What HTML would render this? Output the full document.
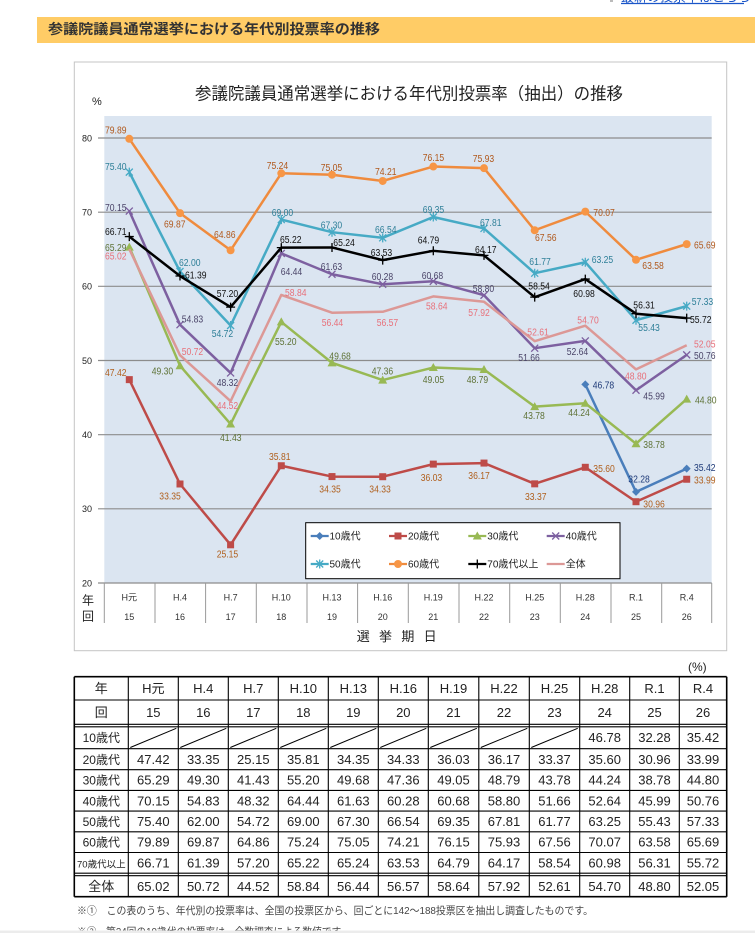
<!DOCTYPE html>
<html lang="ja">
<head>
<meta charset="utf-8">
<style>
html,body{margin:0;padding:0;background:#fff;}
svg{display:block;}
text{font-family:"Liberation Sans","Noto Sans CJK JP",sans-serif;}
.lb{font-size:10px;}
.tb{font-size:13px;fill:#222;}
</style>
</head>
<body>
<svg width="755" height="933" viewBox="0 0 755 933" xmlns="http://www.w3.org/2000/svg">
<defs>
<marker id="mD" markerUnits="userSpaceOnUse" markerWidth="10" markerHeight="10" refX="5" refY="5" overflow="visible"><path d="M5 1L9 5L5 9L1 5Z" fill="#4a7ebb"/></marker>
<marker id="mS" markerUnits="userSpaceOnUse" markerWidth="10" markerHeight="10" refX="5" refY="5" overflow="visible"><rect x="1.5" y="1.5" width="7" height="7" fill="#be4b48"/></marker>
<marker id="mT" markerUnits="userSpaceOnUse" markerWidth="10" markerHeight="10" refX="5" refY="5" overflow="visible"><path d="M5 0.5L9.5 8.5L0.5 8.5Z" fill="#98b954"/></marker>
<marker id="mX" markerUnits="userSpaceOnUse" markerWidth="10" markerHeight="10" refX="5" refY="5" overflow="visible"><path d="M1.5 1.5L8.5 8.5M1.5 8.5L8.5 1.5" stroke="#7d60a0" stroke-width="1.3" fill="none"/></marker>
<marker id="mA" markerUnits="userSpaceOnUse" markerWidth="10" markerHeight="10" refX="5" refY="5" overflow="visible"><path d="M1.5 1.5L8.5 8.5M1.5 8.5L8.5 1.5M5 0.5L5 9.5" stroke="#46aac5" stroke-width="1.3" fill="none"/></marker>
<marker id="mC" markerUnits="userSpaceOnUse" markerWidth="10" markerHeight="10" refX="5" refY="5" overflow="visible"><circle cx="5" cy="5" r="4" fill="#f79646"/></marker>
<marker id="mP" markerUnits="userSpaceOnUse" markerWidth="10" markerHeight="10" refX="5" refY="5" overflow="visible"><path d="M0.5 5H9.5M5 0.5V9.5" stroke="#000" stroke-width="1.3" fill="none"/></marker>
</defs>

<!-- top right link -->
<rect x="610" y="0" width="3" height="2" fill="#bbb"/>
<text x="621" y="1.5" font-size="13" fill="#1a55c8">最新の投票率はこちらへ</text>
<line x1="621" y1="3.5" x2="744" y2="3.5" stroke="#1a55c8" stroke-width="1.3"/>

<!-- header bar -->
<rect x="37" y="17" width="718" height="26" fill="#ffcc66"/>
<text x="48" y="34" font-size="14" font-weight="bold" fill="#333" textLength="332" lengthAdjust="spacingAndGlyphs">参議院議員通常選挙における年代別投票率の推移</text>

<!-- chart frame -->
<rect x="74.3" y="62" width="652.4" height="588.7" fill="#fff" stroke="#c4c4c4" stroke-width="1"/>
<text x="195" y="99.5" font-size="17" fill="#222" textLength="428" lengthAdjust="spacingAndGlyphs">参議院議員通常選挙における年代別投票率（抽出）の推移</text>
<text x="92" y="105" font-size="11" fill="#222">%</text>

<!-- plot area -->
<rect x="104.3" y="116" width="607.4" height="467" fill="#dbe5f1"/>
<g stroke="#8c8c8c" stroke-width="1.2">
<line x1="98" y1="138" x2="711.7" y2="138"/>
<line x1="98" y1="212.2" x2="711.7" y2="212.2"/>
<line x1="98" y1="286.3" x2="711.7" y2="286.3"/>
<line x1="98" y1="360.5" x2="711.7" y2="360.5"/>
<line x1="98" y1="434.7" x2="711.7" y2="434.7"/>
<line x1="98" y1="508.8" x2="711.7" y2="508.8"/>
<line x1="98" y1="583" x2="711.7" y2="583"/>
</g>
<g stroke="#9a9a9a" stroke-width="1">
<line x1="104.3" y1="583" x2="104.3" y2="623"/>
<line x1="155" y1="583" x2="155" y2="623"/>
<line x1="205.6" y1="583" x2="205.6" y2="623"/>
<line x1="256.3" y1="583" x2="256.3" y2="623"/>
<line x1="307" y1="583" x2="307" y2="623"/>
<line x1="357.6" y1="583" x2="357.6" y2="623"/>
<line x1="408.3" y1="583" x2="408.3" y2="623"/>
<line x1="459" y1="583" x2="459" y2="623"/>
<line x1="509.7" y1="583" x2="509.7" y2="623"/>
<line x1="560.3" y1="583" x2="560.3" y2="623"/>
<line x1="611" y1="583" x2="611" y2="623"/>
<line x1="661.7" y1="583" x2="661.7" y2="623"/>
<line x1="711.7" y1="583" x2="711.7" y2="623"/>
</g>

<!-- y ticks -->
<g font-size="9" fill="#222" text-anchor="end">
<text x="92" y="141.3">80</text>
<text x="92" y="215.5">70</text>
<text x="92" y="289.6">60</text>
<text x="92" y="363.8">50</text>
<text x="92" y="438">40</text>
<text x="92" y="512.1">30</text>
<text x="92" y="586.3">20</text>
</g>
<text x="82" y="604.5" font-size="12" fill="#222">年</text>
<text x="82" y="620.5" font-size="12" fill="#222">回</text>

<!-- x category labels -->
<g font-size="9" fill="#333" text-anchor="middle">
<text y="600.3"><tspan x="129.3">H元</tspan><tspan x="180">H.4</tspan><tspan x="230.6">H.7</tspan><tspan x="281.3">H.10</tspan><tspan x="332">H.13</tspan><tspan x="382.7">H.16</tspan><tspan x="433.3">H.19</tspan><tspan x="484">H.22</tspan><tspan x="534.7">H.25</tspan><tspan x="585.3">H.28</tspan><tspan x="636">R.1</tspan><tspan x="686.7">R.4</tspan></text>
<text y="620"><tspan x="129.3">15</tspan><tspan x="180">16</tspan><tspan x="230.6">17</tspan><tspan x="281.3">18</tspan><tspan x="332">19</tspan><tspan x="382.7">20</tspan><tspan x="433.3">21</tspan><tspan x="484">22</tspan><tspan x="534.7">23</tspan><tspan x="585.3">24</tspan><tspan x="636">25</tspan><tspan x="686.7">26</tspan></text>
</g>
<text x="356.7" y="641" font-size="13" fill="#222" textLength="80" lengthAdjust="spacing">選挙期日</text>

<!-- series -->
<g fill="none" stroke-width="2.5" stroke-linejoin="round">
<polyline stroke="#4a7ebb" marker-start="url(#mD)" marker-mid="url(#mD)" marker-end="url(#mD)" points="585.3,384.38 636,491.92 686.7,468.64"/>
<polyline stroke="#be4b48" marker-start="url(#mS)" marker-mid="url(#mS)" marker-end="url(#mS)" points="129.3,379.63 180,483.99 230.6,544.80 281.3,465.74 332,476.57 382.7,476.72 433.3,464.11 484,463.07 534.7,483.84 585.3,467.30 636,501.71 686.7,479.24"/>
<polyline stroke="#98b954" marker-start="url(#mT)" marker-mid="url(#mT)" marker-end="url(#mT)" points="129.3,247.10 180,365.69 230.6,424.06 281.3,321.93 332,362.87 382.7,380.08 433.3,367.55 484,369.48 534.7,406.63 585.3,403.22 636,443.71 686.7,399.07"/>
<polyline stroke="#7d60a0" marker-start="url(#mX)" marker-mid="url(#mX)" marker-end="url(#mX)" points="129.3,211.05 180,324.68 230.6,372.96 281.3,253.40 332,274.24 382.7,284.26 433.3,281.29 484,295.23 534.7,348.19 585.3,340.92 636,390.24 686.7,354.86"/>
<polyline stroke="#46aac5" marker-start="url(#mA)" marker-mid="url(#mA)" marker-end="url(#mA)" points="129.3,172.12 180,271.50 230.6,325.49 281.3,219.58 332,232.19 382.7,237.83 433.3,216.99 484,228.41 534.7,273.21 585.3,262.23 636,320.23 686.7,306.14"/>
<polyline stroke="#ef8b3e" marker-start="url(#mC)" marker-mid="url(#mC)" marker-end="url(#mC)" points="129.3,138.81 180,213.13 230.6,250.29 281.3,173.30 332,174.71 382.7,180.94 433.3,166.55 484,168.18 534.7,230.26 585.3,211.64 636,259.78 686.7,244.13"/>
<polyline stroke="#000" marker-start="url(#mP)" marker-mid="url(#mP)" marker-end="url(#mP)" points="129.3,236.57 180,276.02 230.6,307.10 281.3,247.62 332,247.47 382.7,260.15 433.3,250.81 484,255.41 534.7,297.16 585.3,279.07 636,313.70 686.7,318.08"/>
<polyline stroke="#dc9896" points="129.3,249.10 180,355.16 230.6,401.14 281.3,294.94 332,312.74 382.7,311.77 433.3,296.42 484,301.76 534.7,341.14 585.3,325.64 636,369.40 686.7,345.30"/>
</g>

<!-- data labels -->
<g class="lb" fill="#b0581c">
<text x="105" y="133.5" textLength="21.5" lengthAdjust="spacingAndGlyphs">79.89</text>
<text x="164" y="227.5" textLength="21.5" lengthAdjust="spacingAndGlyphs">69.87</text>
<text x="214" y="237.8" textLength="21.5" lengthAdjust="spacingAndGlyphs">64.86</text>
<text x="266.7" y="168.8" textLength="21.5" lengthAdjust="spacingAndGlyphs">75.24</text>
<text x="320.7" y="171.2" textLength="21.5" lengthAdjust="spacingAndGlyphs">75.05</text>
<text x="375" y="175.2" textLength="21.5" lengthAdjust="spacingAndGlyphs">74.21</text>
<text x="422.7" y="160.8" textLength="21.5" lengthAdjust="spacingAndGlyphs">76.15</text>
<text x="472.7" y="162.2" textLength="21.5" lengthAdjust="spacingAndGlyphs">75.93</text>
<text x="535" y="240.8" textLength="21.5" lengthAdjust="spacingAndGlyphs">67.56</text>
<text x="593.3" y="216.2" textLength="21.5" lengthAdjust="spacingAndGlyphs">70.07</text>
<text x="642.3" y="268.8" textLength="21.5" lengthAdjust="spacingAndGlyphs">63.58</text>
<text x="694" y="248.5" textLength="21.5" lengthAdjust="spacingAndGlyphs">65.69</text>
</g>
<g class="lb" fill="#2e7f98">
<text x="105" y="170.2" textLength="21.5" lengthAdjust="spacingAndGlyphs">75.40</text>
<text x="179" y="266.2" textLength="21.5" lengthAdjust="spacingAndGlyphs">62.00</text>
<text x="211.7" y="337.2" textLength="21.5" lengthAdjust="spacingAndGlyphs">54.72</text>
<text x="271.7" y="215.8" textLength="21.5" lengthAdjust="spacingAndGlyphs">69.00</text>
<text x="320.7" y="228.5" textLength="21.5" lengthAdjust="spacingAndGlyphs">67.30</text>
<text x="375" y="232.8" textLength="21.5" lengthAdjust="spacingAndGlyphs">66.54</text>
<text x="422.7" y="212.8" textLength="21.5" lengthAdjust="spacingAndGlyphs">69.35</text>
<text x="480" y="226.2" textLength="21.5" lengthAdjust="spacingAndGlyphs">67.81</text>
<text x="529.3" y="265.2" textLength="21.5" lengthAdjust="spacingAndGlyphs">61.77</text>
<text x="591.7" y="262.8" textLength="21.5" lengthAdjust="spacingAndGlyphs">63.25</text>
<text x="638.3" y="330.8" textLength="21.5" lengthAdjust="spacingAndGlyphs">55.43</text>
<text x="691.7" y="305.2" textLength="21.5" lengthAdjust="spacingAndGlyphs">57.33</text>
</g>
<g class="lb" fill="#111">
<text x="105" y="235.2" textLength="21.5" lengthAdjust="spacingAndGlyphs">66.71</text>
<text x="185" y="278.5" textLength="21.5" lengthAdjust="spacingAndGlyphs">61.39</text>
<text x="216.7" y="296.8" textLength="21.5" lengthAdjust="spacingAndGlyphs">57.20</text>
<text x="280" y="242.8" textLength="21.5" lengthAdjust="spacingAndGlyphs">65.22</text>
<text x="333.3" y="246.2" textLength="21.5" lengthAdjust="spacingAndGlyphs">65.24</text>
<text x="370.7" y="255.8" textLength="21.5" lengthAdjust="spacingAndGlyphs">63.53</text>
<text x="417.7" y="243.5" textLength="21.5" lengthAdjust="spacingAndGlyphs">64.79</text>
<text x="475" y="252.8" textLength="21.5" lengthAdjust="spacingAndGlyphs">64.17</text>
<text x="528.3" y="289.5" textLength="21.5" lengthAdjust="spacingAndGlyphs">58.54</text>
<text x="573.3" y="296.8" textLength="21.5" lengthAdjust="spacingAndGlyphs">60.98</text>
<text x="633.3" y="308.5" textLength="21.5" lengthAdjust="spacingAndGlyphs">56.31</text>
<text x="690" y="322.8" textLength="21.5" lengthAdjust="spacingAndGlyphs">55.72</text>
</g>
<g class="lb" fill="#4a4468">
<text x="105" y="210.8" textLength="21.5" lengthAdjust="spacingAndGlyphs">70.15</text>
<text x="181.7" y="322.5" textLength="21.5" lengthAdjust="spacingAndGlyphs">54.83</text>
<text x="216.7" y="386.2" textLength="21.5" lengthAdjust="spacingAndGlyphs">48.32</text>
<text x="280.7" y="275.2" textLength="21.5" lengthAdjust="spacingAndGlyphs">64.44</text>
<text x="320.7" y="270.2" textLength="21.5" lengthAdjust="spacingAndGlyphs">61.63</text>
<text x="371.7" y="280.2" textLength="21.5" lengthAdjust="spacingAndGlyphs">60.28</text>
<text x="421.7" y="279.2" textLength="21.5" lengthAdjust="spacingAndGlyphs">60.68</text>
<text x="472.7" y="291.8" textLength="21.5" lengthAdjust="spacingAndGlyphs">58.80</text>
<text x="518.3" y="361.2" textLength="21.5" lengthAdjust="spacingAndGlyphs">51.66</text>
<text x="566.7" y="355.2" textLength="21.5" lengthAdjust="spacingAndGlyphs">52.64</text>
<text x="643.3" y="399.5" textLength="21.5" lengthAdjust="spacingAndGlyphs">45.99</text>
<text x="694" y="359.2" textLength="21.5" lengthAdjust="spacingAndGlyphs">50.76</text>
</g>
<g class="lb" fill="#e8707a">
<text x="105" y="259.5" textLength="21.5" lengthAdjust="spacingAndGlyphs">65.02</text>
<text x="181.7" y="355.2" textLength="21.5" lengthAdjust="spacingAndGlyphs">50.72</text>
<text x="216.7" y="409.2" textLength="21.5" lengthAdjust="spacingAndGlyphs">44.52</text>
<text x="285" y="296.2" textLength="21.5" lengthAdjust="spacingAndGlyphs">58.84</text>
<text x="321.7" y="326.2" textLength="21.5" lengthAdjust="spacingAndGlyphs">56.44</text>
<text x="376.7" y="326.2" textLength="21.5" lengthAdjust="spacingAndGlyphs">56.57</text>
<text x="426" y="309.5" textLength="21.5" lengthAdjust="spacingAndGlyphs">58.64</text>
<text x="468.3" y="316.2" textLength="21.5" lengthAdjust="spacingAndGlyphs">57.92</text>
<text x="527.3" y="335.5" textLength="21.5" lengthAdjust="spacingAndGlyphs">52.61</text>
<text x="577.3" y="323.5" textLength="21.5" lengthAdjust="spacingAndGlyphs">54.70</text>
<text x="625" y="379.5" textLength="21.5" lengthAdjust="spacingAndGlyphs">48.80</text>
<text x="694" y="347.5" textLength="21.5" lengthAdjust="spacingAndGlyphs">52.05</text>
</g>
<g class="lb" fill="#5e7236">
<text x="105" y="250.8" textLength="21.5" lengthAdjust="spacingAndGlyphs">65.29</text>
<text x="151.7" y="374.5" textLength="21.5" lengthAdjust="spacingAndGlyphs">49.30</text>
<text x="220" y="440.8" textLength="21.5" lengthAdjust="spacingAndGlyphs">41.43</text>
<text x="275" y="345.2" textLength="21.5" lengthAdjust="spacingAndGlyphs">55.20</text>
<text x="329.3" y="359.5" textLength="21.5" lengthAdjust="spacingAndGlyphs">49.68</text>
<text x="371.7" y="374.5" textLength="21.5" lengthAdjust="spacingAndGlyphs">47.36</text>
<text x="422.7" y="382.8" textLength="21.5" lengthAdjust="spacingAndGlyphs">49.05</text>
<text x="466.7" y="382.8" textLength="21.5" lengthAdjust="spacingAndGlyphs">48.79</text>
<text x="523.3" y="419.2" textLength="21.5" lengthAdjust="spacingAndGlyphs">43.78</text>
<text x="568.3" y="416.2" textLength="21.5" lengthAdjust="spacingAndGlyphs">44.24</text>
<text x="643.3" y="447.8" textLength="21.5" lengthAdjust="spacingAndGlyphs">38.78</text>
<text x="695" y="403.5" textLength="21.5" lengthAdjust="spacingAndGlyphs">44.80</text>
</g>
<g class="lb" fill="#b0601e">
<text x="105" y="375.8" textLength="21.5" lengthAdjust="spacingAndGlyphs">47.42</text>
<text x="159.3" y="499.5" textLength="21.5" lengthAdjust="spacingAndGlyphs">33.35</text>
<text x="216.7" y="557.5" textLength="21.5" lengthAdjust="spacingAndGlyphs">25.15</text>
<text x="269" y="460.2" textLength="21.5" lengthAdjust="spacingAndGlyphs">35.81</text>
<text x="319.3" y="492.5" textLength="21.5" lengthAdjust="spacingAndGlyphs">34.35</text>
<text x="369.3" y="492.5" textLength="21.5" lengthAdjust="spacingAndGlyphs">34.33</text>
<text x="420.7" y="480.8" textLength="21.5" lengthAdjust="spacingAndGlyphs">36.03</text>
<text x="468.3" y="479.2" textLength="21.5" lengthAdjust="spacingAndGlyphs">36.17</text>
<text x="525" y="500.2" textLength="21.5" lengthAdjust="spacingAndGlyphs">33.37</text>
<text x="593.3" y="471.8" textLength="21.5" lengthAdjust="spacingAndGlyphs">35.60</text>
<text x="643.3" y="507.5" textLength="21.5" lengthAdjust="spacingAndGlyphs">30.96</text>
<text x="694" y="483.5" textLength="21.5" lengthAdjust="spacingAndGlyphs">33.99</text>
</g>
<g class="lb" fill="#1e3a78">
<text x="592.7" y="388.5" textLength="21.5" lengthAdjust="spacingAndGlyphs">46.78</text>
<text x="628.3" y="482.5" textLength="21.5" lengthAdjust="spacingAndGlyphs">32.28</text>
<text x="694" y="470.8" textLength="21.5" lengthAdjust="spacingAndGlyphs">35.42</text>
</g>

<!-- legend -->
<rect x="305.7" y="522.7" width="314.3" height="56" fill="#fff" stroke="#000" stroke-width="1"/>
<g fill="none" stroke-width="2.2">
<polyline stroke="#4a7ebb" marker-mid="url(#mD)" points="310.7,536 319.7,536 328.7,536"/>
<polyline stroke="#be4b48" marker-mid="url(#mS)" points="389,536 398,536 407,536"/>
<polyline stroke="#98b954" marker-mid="url(#mT)" points="468.3,536 477.3,536 486.3,536"/>
<polyline stroke="#7d60a0" marker-mid="url(#mX)" points="546.7,536 555.7,536 564.7,536"/>
<polyline stroke="#46aac5" marker-mid="url(#mA)" points="310.7,564 319.7,564 328.7,564"/>
<polyline stroke="#ef8b3e" marker-mid="url(#mC)" points="389,564 398,564 407,564"/>
<polyline stroke="#000" marker-mid="url(#mP)" points="468.3,564 477.3,564 486.3,564"/>
<polyline stroke="#dc9896" points="546.7,564 564.7,564"/>
</g>
<g font-size="10" fill="#222">
<text x="329.5" y="539.5">10歳代</text>
<text x="408" y="539.5">20歳代</text>
<text x="487.3" y="539.5">30歳代</text>
<text x="565.7" y="539.5">40歳代</text>
<text x="329.5" y="567.5">50歳代</text>
<text x="408" y="567.5">60歳代</text>
<text x="487.3" y="567.5">70歳代以上</text>
<text x="565.7" y="567.5">全体</text>
</g>

<!-- table -->
<text x="688" y="671" font-size="12" fill="#222">(%)</text>
<g stroke="#000" stroke-width="1.1">
<line x1="74.3" y1="676.7" x2="726.7" y2="676.7" stroke-width="1.6"/>
<line x1="74.3" y1="700" x2="726.7" y2="700"/>
<line x1="74.3" y1="724.3" x2="726.7" y2="724.3"/>
<line x1="74.3" y1="726.8" x2="726.7" y2="726.8"/>
<line x1="74.3" y1="748.7" x2="726.7" y2="748.7"/>
<line x1="74.3" y1="769.7" x2="726.7" y2="769.7"/>
<line x1="74.3" y1="790.4" x2="726.7" y2="790.4"/>
<line x1="74.3" y1="811.1" x2="726.7" y2="811.1"/>
<line x1="74.3" y1="831.8" x2="726.7" y2="831.8"/>
<line x1="74.3" y1="852.5" x2="726.7" y2="852.5"/>
<line x1="74.3" y1="873.2" x2="726.7" y2="873.2"/>
<line x1="74.3" y1="875.7" x2="726.7" y2="875.7"/>
<line x1="74.3" y1="896.7" x2="726.7" y2="896.7" stroke-width="1.6"/>
<line x1="74.3" y1="676.7" x2="74.3" y2="896.7" stroke-width="1.6"/>
<line x1="128.3" y1="676.7" x2="128.3" y2="896.7"/>
<line x1="178.3" y1="676.7" x2="178.3" y2="896.7"/>
<line x1="228.3" y1="676.7" x2="228.3" y2="896.7"/>
<line x1="278.3" y1="676.7" x2="278.3" y2="896.7"/>
<line x1="328.3" y1="676.7" x2="328.3" y2="896.7"/>
<line x1="378.3" y1="676.7" x2="378.3" y2="896.7"/>
<line x1="428.3" y1="676.7" x2="428.3" y2="896.7"/>
<line x1="478.8" y1="676.7" x2="478.8" y2="896.7"/>
<line x1="529.3" y1="676.7" x2="529.3" y2="896.7"/>
<line x1="579.7" y1="676.7" x2="579.7" y2="896.7"/>
<line x1="629.7" y1="676.7" x2="629.7" y2="896.7"/>
<line x1="679.3" y1="676.7" x2="679.3" y2="896.7"/>
<line x1="726.7" y1="676.7" x2="726.7" y2="896.7" stroke-width="1.6"/>
</g>
<g stroke="#000" stroke-width="1">
<line x1="130.3" y1="747.5" x2="176.3" y2="728.3"/>
<line x1="180.3" y1="747.5" x2="226.3" y2="728.3"/>
<line x1="230.3" y1="747.5" x2="276.3" y2="728.3"/>
<line x1="280.3" y1="747.5" x2="326.3" y2="728.3"/>
<line x1="330.3" y1="747.5" x2="376.3" y2="728.3"/>
<line x1="380.3" y1="747.5" x2="426.3" y2="728.3"/>
<line x1="430.3" y1="747.5" x2="476.8" y2="728.3"/>
<line x1="480.8" y1="747.5" x2="527.3" y2="728.3"/>
<line x1="531.3" y1="747.5" x2="577.7" y2="728.3"/>
</g>
<g class="tb" text-anchor="middle">
<text y="693"><tspan x="101.3">年</tspan><tspan x="153.3">H元</tspan><tspan x="203.3">H.4</tspan><tspan x="253.3">H.7</tspan><tspan x="303.3">H.10</tspan><tspan x="353.3">H.13</tspan><tspan x="403.3">H.16</tspan><tspan x="453.5">H.19</tspan><tspan x="504">H.22</tspan><tspan x="554.5">H.25</tspan><tspan x="604.7">H.28</tspan><tspan x="654.5">R.1</tspan><tspan x="703">R.4</tspan></text>
<text y="717"><tspan x="101.3">回</tspan><tspan x="153.3">15</tspan><tspan x="203.3">16</tspan><tspan x="253.3">17</tspan><tspan x="303.3">18</tspan><tspan x="353.3">19</tspan><tspan x="403.3">20</tspan><tspan x="453.5">21</tspan><tspan x="504">22</tspan><tspan x="554.5">23</tspan><tspan x="604.7">24</tspan><tspan x="654.5">25</tspan><tspan x="703">26</tspan></text>
<text y="742.2"><tspan x="101.3" font-size="12">10歳代</tspan><tspan x="604.7">46.78</tspan><tspan x="654.5">32.28</tspan><tspan x="703">35.42</tspan></text>
<text y="763.9"><tspan x="101.3" font-size="12">20歳代</tspan><tspan x="153.3">47.42</tspan><tspan x="203.3">33.35</tspan><tspan x="253.3">25.15</tspan><tspan x="303.3">35.81</tspan><tspan x="353.3">34.35</tspan><tspan x="403.3">34.33</tspan><tspan x="453.5">36.03</tspan><tspan x="504">36.17</tspan><tspan x="554.5">33.37</tspan><tspan x="604.7">35.60</tspan><tspan x="654.5">30.96</tspan><tspan x="703">33.99</tspan></text>
<text y="784.6"><tspan x="101.3" font-size="12">30歳代</tspan><tspan x="153.3">65.29</tspan><tspan x="203.3">49.30</tspan><tspan x="253.3">41.43</tspan><tspan x="303.3">55.20</tspan><tspan x="353.3">49.68</tspan><tspan x="403.3">47.36</tspan><tspan x="453.5">49.05</tspan><tspan x="504">48.79</tspan><tspan x="554.5">43.78</tspan><tspan x="604.7">44.24</tspan><tspan x="654.5">38.78</tspan><tspan x="703">44.80</tspan></text>
<text y="805.3"><tspan x="101.3" font-size="12">40歳代</tspan><tspan x="153.3">70.15</tspan><tspan x="203.3">54.83</tspan><tspan x="253.3">48.32</tspan><tspan x="303.3">64.44</tspan><tspan x="353.3">61.63</tspan><tspan x="403.3">60.28</tspan><tspan x="453.5">60.68</tspan><tspan x="504">58.80</tspan><tspan x="554.5">51.66</tspan><tspan x="604.7">52.64</tspan><tspan x="654.5">45.99</tspan><tspan x="703">50.76</tspan></text>
<text y="826"><tspan x="101.3" font-size="12">50歳代</tspan><tspan x="153.3">75.40</tspan><tspan x="203.3">62.00</tspan><tspan x="253.3">54.72</tspan><tspan x="303.3">69.00</tspan><tspan x="353.3">67.30</tspan><tspan x="403.3">66.54</tspan><tspan x="453.5">69.35</tspan><tspan x="504">67.81</tspan><tspan x="554.5">61.77</tspan><tspan x="604.7">63.25</tspan><tspan x="654.5">55.43</tspan><tspan x="703">57.33</tspan></text>
<text y="846.7"><tspan x="101.3" font-size="12">60歳代</tspan><tspan x="153.3">79.89</tspan><tspan x="203.3">69.87</tspan><tspan x="253.3">64.86</tspan><tspan x="303.3">75.24</tspan><tspan x="353.3">75.05</tspan><tspan x="403.3">74.21</tspan><tspan x="453.5">76.15</tspan><tspan x="504">75.93</tspan><tspan x="554.5">67.56</tspan><tspan x="604.7">70.07</tspan><tspan x="654.5">63.58</tspan><tspan x="703">65.69</tspan></text>
<text y="867.4"><tspan x="101.3" font-size="9.5">70歳代以上</tspan><tspan x="153.3">66.71</tspan><tspan x="203.3">61.39</tspan><tspan x="253.3">57.20</tspan><tspan x="303.3">65.22</tspan><tspan x="353.3">65.24</tspan><tspan x="403.3">63.53</tspan><tspan x="453.5">64.79</tspan><tspan x="504">64.17</tspan><tspan x="554.5">58.54</tspan><tspan x="604.7">60.98</tspan><tspan x="654.5">56.31</tspan><tspan x="703">55.72</tspan></text>
<text y="890.8"><tspan x="101.3">全体</tspan><tspan x="153.3">65.02</tspan><tspan x="203.3">50.72</tspan><tspan x="253.3">44.52</tspan><tspan x="303.3">58.84</tspan><tspan x="353.3">56.44</tspan><tspan x="403.3">56.57</tspan><tspan x="453.5">58.64</tspan><tspan x="504">57.92</tspan><tspan x="554.5">52.61</tspan><tspan x="604.7">54.70</tspan><tspan x="654.5">48.80</tspan><tspan x="703">52.05</tspan></text>
</g>

<!-- footnotes -->
<text x="77" y="913.8" font-size="10.5" fill="#444" textLength="516" lengthAdjust="spacingAndGlyphs">※①　この表のうち、年代別の投票率は、全国の投票区から、回ごとに142～188投票区を抽出し調査したものです。</text>
<text x="77" y="935" font-size="10.5" fill="#444" textLength="273" lengthAdjust="spacingAndGlyphs">※②　第24回の10歳代の投票率は、全数調査による数値です。</text>
<rect x="0" y="930.5" width="755" height="2.5" fill="#ececec"/>
</svg>
</body>
</html>
